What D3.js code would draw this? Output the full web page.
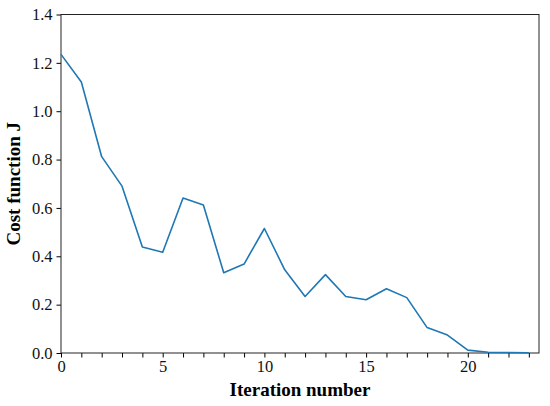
<!DOCTYPE html>
<html>
<head>
<meta charset="utf-8">
<script src="https://cdn.jsdelivr.net/npm/d3@7"></script>
<style>
  body { margin: 0; background: #fff; }
  svg { display: block; }
</style>
</head>
<body>
<div id="chart"></div>
<script>
// iteration index and cost value
var iterations = [0, 1, 2, 3, 4, 5, 6, 7, 8, 9, 10, 11, 12, 13, 14, 15, 16, 17, 18, 19, 20, 21, 22, 23];
var costJ = [1.235, 1.121, 0.812, 0.690, 0.438, 0.417, 0.641, 0.612, 0.332, 0.368, 0.515, 0.344,
             0.234, 0.324, 0.234, 0.220, 0.266, 0.229, 0.105, 0.074, 0.012, 0.003, 0.002, 0.001];
var xTickLabels = [0, 5, 10, 15, 20];
var yTickLabels = [0.0, 0.2, 0.4, 0.6, 0.8, 1.0, 1.2, 1.4];

var serif = "'Liberation Serif', 'Times New Roman', serif";

var svg_w = 550, svg_h = 406;
var margin = {top: 14.5, right: 11, bottom: 53, left: 61};
var plot_w = svg_w - margin.left - margin.right;
var plot_h = svg_h - margin.top - margin.bottom;

var svg = d3.select("#chart").append("svg")
    .attr("width", svg_w)
    .attr("height", svg_h);

var g = svg.append("g")
    .attr("transform", "translate(" + margin.left + "," + margin.top + ")");

var x = d3.scaleLinear().domain([0, 23.5]).range([0, plot_w]);
var y = d3.scaleLinear().domain([0, 1.4]).range([plot_h, 0]);

// x axis: a tick at every iteration, label on multiples of 5
var xAxis = d3.axisBottom(x)
    .tickValues(iterations)
    .tickSize(4.5)
    .tickPadding(3)
    .tickFormat(function(d) { return xTickLabels.indexOf(d) >= 0 ? d : ""; });
g.append("g")
    .attr("class", "xaxis")
    .attr("transform", "translate(0," + plot_h + ")")
    .call(xAxis)
    .call(function(s) { s.select(".domain").remove(); });

var yAxis = d3.axisLeft(y)
    .tickValues(yTickLabels)
    .tickSize(4.5)
    .tickPadding(4)
    .tickFormat(d3.format(".1f"));
g.append("g")
    .attr("class", "yaxis")
    .call(yAxis)
    .call(function(s) { s.select(".domain").remove(); });

g.selectAll(".xaxis, .yaxis")
    .attr("font-family", serif)
    .attr("font-size", 16.5);
g.selectAll(".tick text")
    .style("font-family", serif)
    .style("font-size", "16.5px")
    .attr("fill", "#111");
g.selectAll(".tick line").attr("stroke", "#000").attr("stroke-width", 1);

// frame
g.append("rect")
    .attr("x", 0).attr("y", 0)
    .attr("width", plot_w).attr("height", plot_h)
    .attr("fill", "none")
    .attr("stroke", "#222")
    .attr("stroke-width", 1);

// the cost curve
g.append("path")
    .datum(iterations)
    .attr("fill", "none")
    .attr("stroke", "#1f77b4")
    .attr("stroke-width", 1.6)
    .attr("stroke-linejoin", "round")
    .attr("d", d3.line()
      .x(function(d, i) { return x(d); })
      .y(function(d, i) { return y(costJ[i]); })
    );

// axis labels
g.append("text")
    .style("font-family", serif)
    .style("font-size", "19px")
    .style("font-weight", "bold")
    .attr("x", plot_w / 2)
    .attr("y", plot_h + 43)
    .style("text-anchor", "middle")
    .text("Iteration number");

g.append("text")
    .style("font-family", serif)
    .style("font-size", "19px")
    .style("font-weight", "bold")
    .attr("transform", "rotate(-90)")
    .attr("x", -plot_h / 2)
    .attr("y", -41)
    .style("text-anchor", "middle")
    .text("Cost function J");
</script>
</body>
</html>
